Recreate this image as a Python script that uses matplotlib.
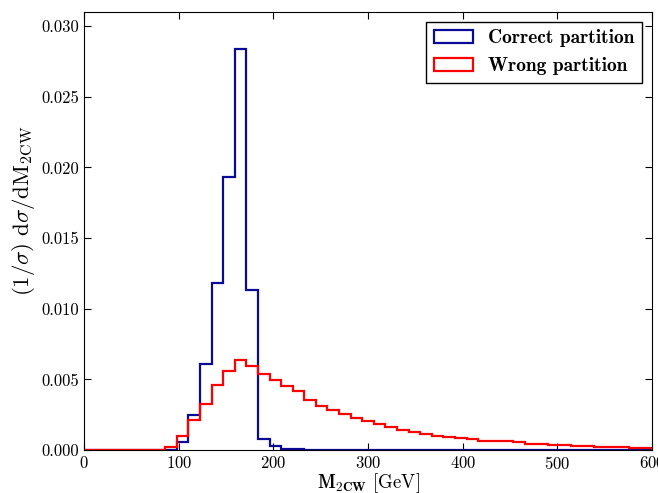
import numpy as np
import matplotlib
matplotlib.use("Agg")
import matplotlib.pyplot as plt

# 49 equal bins between 0 and 600 GeV
EDGES = np.linspace(0, 600, 50)

# normalised M2CW distributions, one value per bin
CORRECT = [0, 0, 0, 0, 0, 0, 0, 0.00003, 0.0006, 0.0025, 0.0061, 0.0118, 0.0193,
           0.0284, 0.0113, 0.0008, 0.00025, 0.0001, 0.00004, 0.00002] + [0] * 29
WRONG = [0, 0, 0, 0, 0, 0, 0, 0.00021, 0.00099, 0.00212, 0.00323, 0.00458, 0.00557,
         0.00635, 0.00594, 0.00538, 0.00495, 0.00450, 0.00418, 0.00354, 0.00314,
         0.00281, 0.00255, 0.00224, 0.00203, 0.00182, 0.00161, 0.00139, 0.00130,
         0.00113, 0.00099, 0.00090, 0.00083, 0.00078, 0.00066, 0.00065, 0.00062,
         0.00054, 0.00045, 0.00040, 0.00035, 0.00032, 0.00030, 0.00028, 0.00021,
         0.00020, 0.00018, 0.00014, 0.00014]
LABELS = ["Correct partition", "Wrong partition"]

plt.rcParams["font.family"] = "cmr10"
plt.rcParams["mathtext.fontset"] = "cm"
plt.rcParams["axes.unicode_minus"] = False
plt.rcParams["axes.formatter.use_mathtext"] = True

fig = plt.figure(figsize=(6.58, 4.93), dpi=100)
ax = fig.add_axes([0.1277, 0.0872, 0.8633, 0.8885])

centers = 0.5 * (EDGES[:-1] + EDGES[1:])
ax.hist(centers, bins=EDGES, weights=CORRECT, histtype="step", color="#0a0a96",
        lw=1.6, label=LABELS[0])
ax.hist(centers, bins=EDGES, weights=WRONG, histtype="step", color="#ff0000",
        lw=1.6, label=LABELS[1])

ax.set_xlim(0, 600)
ax.set_ylim(0, 0.031)
ax.set_xticks(range(0, 601, 100))
ax.set_yticks(np.arange(0, 0.0301, 0.005))
ax.yaxis.set_major_formatter(matplotlib.ticker.FormatStrFormatter("%.3f"))
ax.tick_params(direction="in", top=True, right=True, labelsize=12, length=5)

ax.set_xlabel(r"$\mathbf{M_{2CW}}$ [GeV]", fontsize=13.5, labelpad=-0.5)
ax.set_ylabel(r"$(1/\sigma)\ \mathrm{d}\sigma/\mathrm{dM_{2CW}}$", fontsize=16.5)
ax.yaxis.set_label_coords(-0.082, 0.545)

leg = ax.legend(loc="upper right", prop={"family": "cmb10", "size": 14},
                fancybox=False, edgecolor="black", framealpha=1,
                handlelength=2.0, borderaxespad=0.5)
leg.get_frame().set_linewidth(1.0)

fig.savefig("out.png", dpi=100)
